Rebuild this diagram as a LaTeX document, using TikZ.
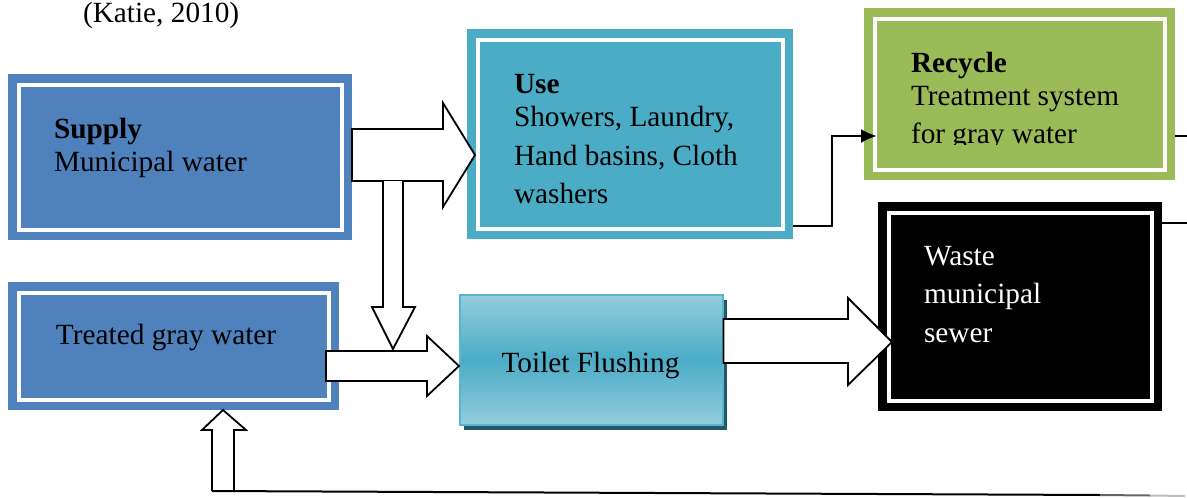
\documentclass[tikz,border=0pt]{standalone}
\usepackage{fontspec}
\setmainfont{Liberation Serif}
\usetikzlibrary{arrows.meta,shadows}
\definecolor{supblue}{HTML}{4F81BD}
\definecolor{useteal}{HTML}{4BACC6}
\definecolor{recgreen}{HTML}{9BBB59}
\definecolor{tlight}{HTML}{93CDDD}
\definecolor{tedge}{HTML}{5AB4CC}
\definecolor{tshadow}{HTML}{215968}
\begin{document}
\begin{tikzpicture}[x=1pt,y=-1pt,
  font=\fontsize{29.3}{35}\selectfont,
  fbox/.style={rectangle, inner sep=0pt, outer sep=0pt, anchor=north west, fill=#1,
    path picture={\draw[white,line width=4pt]
      ([xshift=10.5pt,yshift=-10.5pt]path picture bounding box.north west) rectangle
      ([xshift=-10.5pt,yshift=10.5pt]path picture bounding box.south east);}},
  txt/.style={anchor=base west, inner sep=0pt, outer sep=0pt},
  blockarrow/.style={draw=black, fill=white, line width=1.8pt, line join=miter},
  conn/.style={draw=black, line width=2.4pt},
]
\useasboundingbox (0,0) rectangle (1187,498);

% citation
\node[txt] (cite) at (83,22.5) {(Katie, 2010)};

% boxes
\node[fbox=supblue, minimum width=344pt, minimum height=166pt] (sup) at (8,74) {};
\node[fbox=useteal, minimum width=326pt, minimum height=210pt] (use) at (467,29) {};
\node[fbox=recgreen, minimum width=311pt, minimum height=172pt] (rec) at (864,8) {};
\node[fbox=black, minimum width=284pt, minimum height=209pt] (waste) at (878,202) {};
\node[fbox=supblue, minimum width=331pt, minimum height=128pt] (treat) at (8,282) {};
\node[rectangle, anchor=north west, inner sep=0pt, minimum width=263pt, minimum height=130pt,
      draw=tedge, line width=1.5pt, top color=tlight, bottom color=tlight, middle color=useteal,
      general shadow={fill=tshadow, shadow xshift=4pt, shadow yshift=-5pt}] (toil) at (459,294) {};

% texts
\node[txt] (sup1) at (54,138) {\bfseries Supply};
\node[txt] (sup2) at (54,171) {Municipal water};
\node[txt] (use1) at (514,93) {\bfseries Use};
\node[txt] (use2) at (514,126) {Showers, Laundry,};
\node[txt] (use3) at (514,165) {Hand basins, Cloth};
\node[txt] (use4) at (514,203) {washers};
\begin{scope}
\clip (864,8) rectangle (1175,144);
\node[txt] (rec1) at (911,72) {\bfseries Recycle};
\node[txt] (rec2) at (911,105) {Treatment system};
\node[txt] (rec3) at (911,143) {for gray water};
\end{scope}
\node[txt, text=white] (was1) at (924,265) {Waste};
\node[txt, text=white] (was2) at (924,303) {municipal};
\node[txt, text=white] (was3) at (924,342) {sewer};
\node[txt] (tre1) at (56,344) {Treated gray water};
\node[anchor=base, inner sep=0pt] (toi1) at (590.5,372) {Toilet Flushing};

% block arrows
\draw[blockarrow] (sup.east |- 0,129) -- (443,129) -- (443,103) -- (475,155) -- (443,207) -- (443,181) -- (sup.east |- 0,181) -- cycle;
\draw[blockarrow] (383,181) -- (383,307) -- (372,307) -- (393,349) -- (415,307) -- (403,307) -- (403,181);
\draw[blockarrow] (326,351) -- (427,351) -- (427,336) -- (toil.west |- 0,366) -- (427,396) -- (427,381) -- (326,381) -- cycle;
\draw[blockarrow] (toil.east |- 0,319) -- (848,319) -- (848,298) -- (892,342) -- (848,385) -- (848,363) -- (toil.east |- 0,363) -- cycle;
\draw[blockarrow] (212,491) -- (212,430) -- (202,430) -- (treat.south -| 223,0) -- (246,430) -- (234,430) -- (234,491);

% connectors
\coordinate (fb) at (1100,495);
\coordinate (fbm) at (1150,495.5);
\coordinate (fbend) at (1185,496);
\draw[line width=2pt] (212,491) -- (fb);
\draw[line width=2pt, black!60] (fb) -- (fbm);
\draw[line width=2pt, black!25] (fbm) -- (fbend);
\draw[conn, -{Latex[length=16pt,width=14pt]}] (use.east |- 0,226) -- (832,226) -- (832,136) -- (877,136);
\coordinate (recout) at (1187,136);
\coordinate (wasout) at (1187,223);
\draw[conn] (rec.east |- recout) -- (recout);
\draw[conn] (waste.east |- wasout) -- (wasout);
\end{tikzpicture}
\end{document}
